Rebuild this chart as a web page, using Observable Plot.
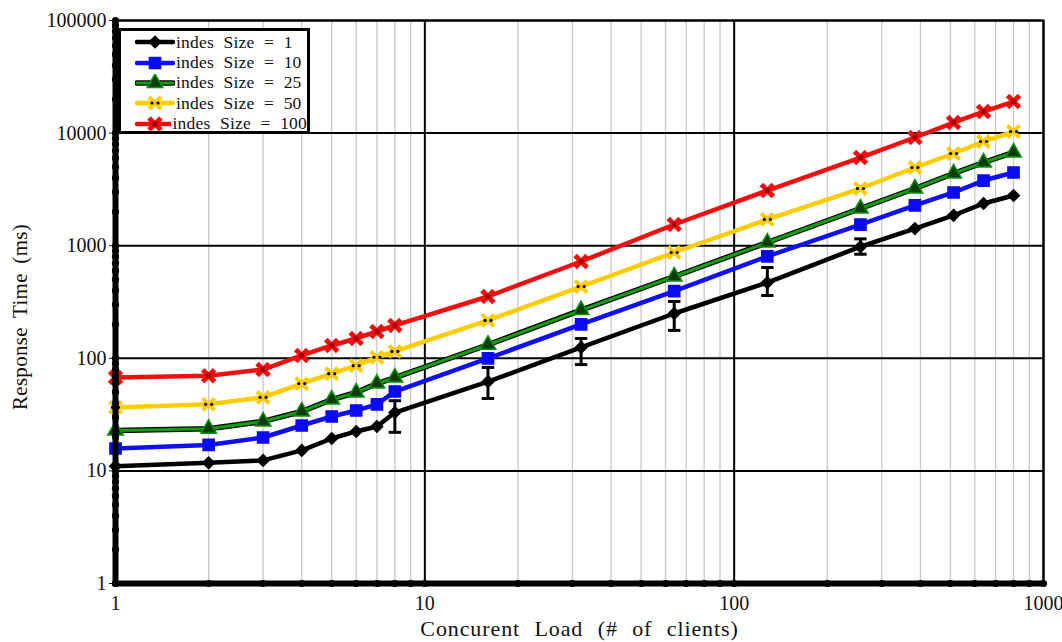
<!DOCTYPE html>
<html>
<head>
<meta charset="utf-8">
<script src="https://cdn.jsdelivr.net/npm/d3@7"></script>
<script src="https://cdn.jsdelivr.net/npm/@observablehq/plot@0.6"></script>
<style>
  html, body { margin: 0; padding: 0; background: white; }
  #wrap { position: relative; width: 1062px; height: 642px; }
  #legend { position: absolute; left: 118px; top: 28px; width: 186px; height: 99px; border: 3px solid black; background: white;
    font-family: "Liberation Serif", serif; font-size: 17.5px; box-sizing: content-box; padding-top: 1px; }
  .row { display: flex; align-items: center; height: 20.4px; padding-left: 14px; }
  .row span { word-spacing: 5px; letter-spacing: 0.2px; margin-left: 1px; white-space: pre; color: #111; }
</style>
</head>
<body>
<div id="wrap"><div id="legend"></div></div>
<script>
// ---- data ----
const load = [1, 2, 3, 4, 5, 6, 7, 8, 16, 32, 64, 128, 256, 384, 512, 640, 800];
const size1   = [11, 11.8, 12.4, 15.2, 19.4, 22.4, 24.8, 33, 62, 125, 250, 470, 980, 1420, 1860, 2370, 2790];
const size10  = [15.8, 17, 19.8, 25.3, 30.4, 34.4, 39, 50.7, 100, 200, 395, 805, 1540, 2280, 2970, 3790, 4470];
const size25  = [22.8, 23.7, 27.5, 33.7, 43, 49.7, 59.7, 67.5, 132, 268, 533, 1067, 2140, 3220, 4380, 5480, 6730];
const size50  = [36.6, 39, 44.9, 59.7, 73, 86, 102, 115, 217, 434, 870, 1710, 3220, 4950, 6590, 8420, 10330];
const size100 = [67.5, 70, 79.5, 106, 130, 150, 173, 196, 354, 724, 1543, 3090, 6070, 9140, 12400, 15550, 19070];
// error bars on index size 1
const errLoad = [8, 16, 32, 64, 128, 256];
const errLow  = [22, 44, 88, 177, 361, 840];
const errHigh = [42, 83, 150, 320, 640, 1150];

const seriesNames = ["indes Size = 1", "indes Size = 10", "indes Size = 25", "indes Size = 50", "indes Size = 100"];
const xTicks = [1, 10, 100, 1000];
const yTicks = [1, 10, 100, 1000, 10000, 100000];
const xTitle = "Concurent Load (# of clients)";
const yTitle = "Response Time (ms)";

// ---- derived tables ----
const allSeries = [size1, size10, size25, size50, size100];
const table = allSeries.flatMap((vals, i) => vals.map((v, j) => ({x: load[j], y: v, s: seriesNames[i]})));
const bySeries = name => table.filter(d => d.s === name);
const errs = errLoad.map((x, i) => ({x, lo: errLow[i], hi: errHigh[i]}));
const minorX = [];
for (const dec of [1, 10, 100]) for (let k = 2; k <= 9; k++) minorX.push(dec * k);
const minorY = [];
for (const dec of [1, 10, 100, 1000, 10000]) for (let k = 2; k <= 9; k++) minorY.push(dec * k);

const capSymbol = { draw(ctx, size) { const w = Math.sqrt(size); ctx.moveTo(-w, 0); ctx.lineTo(w, 0); } };

const styles = [
  {stroke: "black", symbol: "diamond2", fill: "black", mstroke: "black", r: 5.2},
  {stroke: "#1010f0", symbol: "square", fill: "#0a0af5", mstroke: "#0a0af5", r: 6.3},
  {stroke: "#10a010", symbol: "triangle", fill: "#0b3d0b", mstroke: "#109010", r: 5.8},
  {stroke: "#ffcc00", symbol: "times", fill: "none", mstroke: "#ffcc00", r: 5.5},
  {stroke: "#f01010", symbol: "times", fill: "none", mstroke: "#ee1010", r: 5.5}
];

const marks = [
  Plot.ruleX(minorX, {stroke: "#c8c8c8", strokeWidth: 1.3}),
  Plot.ruleX([10, 100, 1000], {stroke: "black", strokeWidth: 2}),
  Plot.ruleY(yTicks, {stroke: "black", strokeWidth: 2}),
  Plot.frame({stroke: "black", strokeWidth: 2})
];

for (let i = 4; i >= 0; i--) {
  const d = bySeries(seriesNames[i]);
  const st = styles[i];
  if (i === 2) marks.push(Plot.line(d, {x: "x", y: "y", stroke: "black", strokeWidth: 5.5}));
  marks.push(Plot.line(d, {x: "x", y: "y", stroke: st.stroke, strokeWidth: i === 2 ? 3 : 4.5}));
  if (st.symbol === "times") {
    marks.push(Plot.dot(d, {x: "x", y: "y", symbol: "times", r: st.r, stroke: st.mstroke, strokeWidth: i === 4 ? 5 : 4}));
    if (i === 3) {
      marks.push(Plot.dot(d, {x: "x", y: "y", r: 1.6, fill: "black", dx: -3}));
      marks.push(Plot.dot(d, {x: "x", y: "y", r: 1.6, fill: "black", dx: 3}));
    } else {
      marks.push(Plot.dot(d, {x: "x", y: "y", symbol: "square", r: 2.6, fill: "#a00000"}));
    }
  } else {
    marks.push(Plot.dot(d, {x: "x", y: "y", symbol: st.symbol, r: st.r, fill: st.fill, stroke: st.mstroke, strokeWidth: 1.5}));
  }
  if (i === 0) {
    marks.push(Plot.ruleX(errs, {x: "x", y1: "lo", y2: "hi", stroke: "black", strokeWidth: 3}));
    marks.push(Plot.dot(errs, {x: "x", y: "lo", symbol: capSymbol, r: 3.5, stroke: "black", strokeWidth: 3}));
    marks.push(Plot.dot(errs, {x: "x", y: "hi", symbol: capSymbol, r: 3.5, stroke: "black", strokeWidth: 3}));
  }
}

marks.push(
  Plot.ruleX([1], {stroke: "black", strokeWidth: 6}),
  Plot.ruleY([1], {stroke: "black", strokeWidth: 6}),
  Plot.dot(minorY.concat(yTicks), {x: () => 1, y: d => d, r: 3.6, fill: "black"}),
  Plot.dot(minorX.concat(xTicks), {x: d => d, y: () => 1, r: 3.6, fill: "black"}),
  Plot.text([yTitle], {frameAnchor: "left", textAnchor: "middle", dx: -95, dy: 15, rotate: -90, fontSize: 21, fill: "#111"}),
  Plot.text([xTitle], {frameAnchor: "bottom", textAnchor: "middle", dy: 52, fontSize: 22, fill: "#111"})
);

const chart = Plot.plot({
  width: 1062,
  height: 642,
  marginLeft: 115,
  marginRight: 19,
  marginTop: 20,
  marginBottom: 59,
  style: {fontFamily: "Liberation Serif", fontSize: "20px", color: "#111", background: "white"},
  x: {type: "log", domain: [1, 1000], ticks: xTicks, tickFormat: d => String(d), tickSize: 0, tickPadding: 12, label: null},
  y: {type: "log", domain: [1, 100000], ticks: yTicks, tickFormat: d => String(d), tickSize: 6, tickPadding: 3, label: null},
  marks
});
document.getElementById("wrap").prepend(chart);
chart.style.position = "absolute";
chart.style.left = "0";
chart.style.top = "0";

// letter/word spacing of the axis titles
d3.select(chart).selectAll("text").each(function () {
  const t = this.textContent;
  if (t === xTitle) d3.select(this).style("letter-spacing", "0.9px").style("word-spacing", "8px");
  if (t === yTitle) d3.select(this).style("letter-spacing", "0.3px").style("word-spacing", "4px");
});

// legend
const legend = d3.select("#legend");
const symMap = {diamond2: d3.symbolDiamond2, square: d3.symbolSquare, triangle: d3.symbolTriangle, times: d3.symbolTimes};
seriesNames.forEach((name, i) => {
  const st = styles[i];
  const row = legend.append("div").attr("class", "row");
  const svg = row.append("svg").attr("width", 40).attr("height", 18);
  if (i === 2) svg.append("line").attr("x1", 2).attr("x2", 38).attr("y1", 9).attr("y2", 9).attr("stroke", "black").attr("stroke-width", 5.5).attr("stroke-linecap", "round");
  svg.append("line").attr("x1", 2).attr("x2", 38).attr("y1", 9).attr("y2", 9).attr("stroke", st.stroke).attr("stroke-width", i === 2 ? 3 : 4.5).attr("stroke-linecap", "round");
  const path = d3.symbol(symMap[st.symbol], st.r * st.r * Math.PI)();
  const g = svg.append("g").attr("transform", "translate(20,9)");
  if (st.symbol === "times") {
    g.append("path").attr("d", path).attr("fill", "none").attr("stroke", st.mstroke).attr("stroke-width", i === 4 ? 5 : 4);
    if (i === 3) {
      g.append("circle").attr("cx", -3).attr("r", 1.6).attr("fill", "black");
      g.append("circle").attr("cx", 3).attr("r", 1.6).attr("fill", "black");
    } else {
      g.append("rect").attr("x", -2.5).attr("y", -2.5).attr("width", 5).attr("height", 5).attr("fill", "#a00000");
    }
  } else {
    g.append("path").attr("d", path).attr("fill", st.fill).attr("stroke", st.mstroke).attr("stroke-width", 1.5);
  }
  row.append("span").text(name);
});
</script>
</body>
</html>
